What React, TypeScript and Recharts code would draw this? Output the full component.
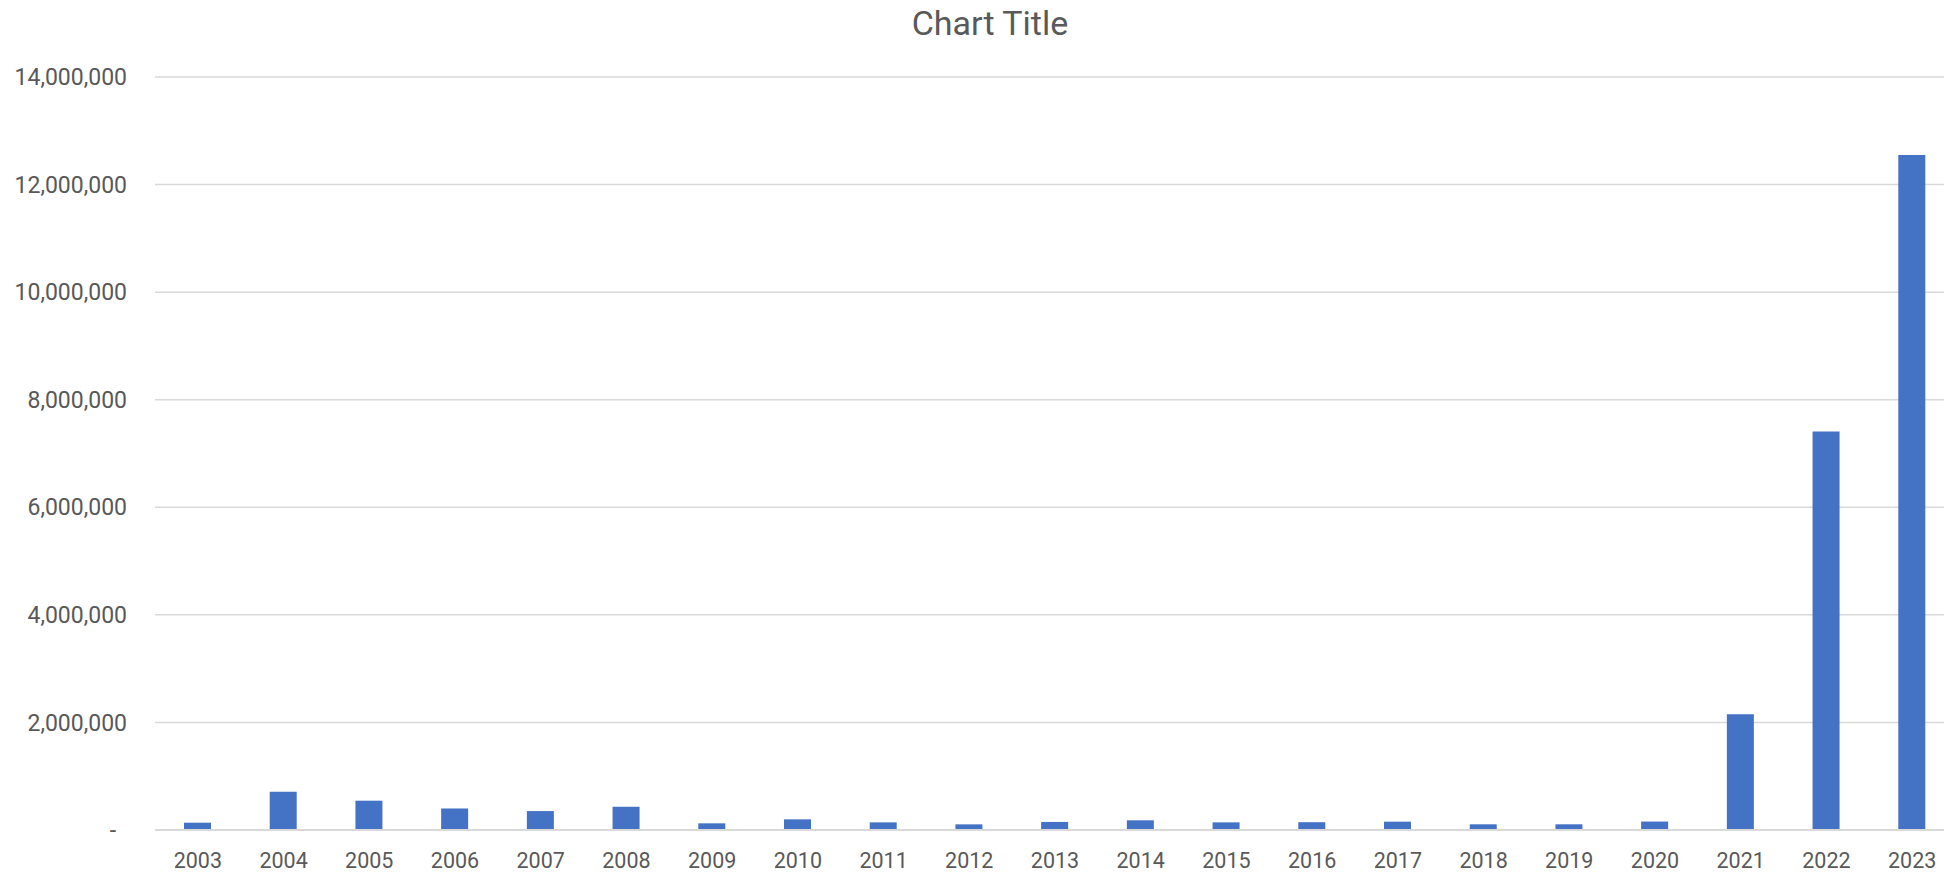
import { Bar, BarChart, CartesianGrid, XAxis, YAxis } from 'recharts'

const years = [
  '2003', '2004', '2005', '2006', '2007', '2008', '2009', '2010', '2011', '2012', '2013',
  '2014', '2015', '2016', '2017', '2018', '2019', '2020', '2021', '2022', '2023',
]

const values = [
  136000, 710000, 545000, 400000, 352000, 432000, 124000, 198000, 142000, 105000, 150000,
  180000, 142000, 145000, 155000, 106000, 106000, 157000, 2150000, 7410000, 12550000,
]

const yTicks = [0, 2000000, 4000000, 6000000, 8000000, 10000000, 12000000, 14000000]

const data = years.map((year, i) => ({ year, value: values[i] }))

const TEXT = '#595959'
const GRID = '#d9d9d9'
const FONT = 'Roboto, sans-serif'

function YTick({ x, y, payload }: any) {
  const v = Number(payload.value)
  const label = v === 0 ? '-' : v.toLocaleString('en-US')
  return (
    <text x={v === 0 ? x - 11 : x} y={y} dy="0.355em" textAnchor="end" fill={TEXT} fontSize={23} fontFamily={FONT}>
      {label}
    </text>
  )
}

export default function App() {
  return (
    <div style={{ position: 'absolute', left: 0, top: 0, width: 1944, height: 874, overflow: 'hidden', background: '#fff' }}>
      <div
        style={{
          position: 'absolute',
          left: 0,
          top: 6,
          width: 1980,
          textAlign: 'center',
          fontFamily: FONT,
          fontSize: 34,
          lineHeight: '34px',
          color: TEXT,
        }}
      >
        Chart Title
      </div>
      <BarChart width={1980} height={874} data={data} margin={{ top: 77, right: 25, left: 0, bottom: 4 }}>
        <CartesianGrid vertical={false} stroke={GRID} strokeWidth={1.5} />
        <XAxis
          dataKey="year"
          height={40}
          tickLine={false}
          tickSize={0}
          tickMargin={23}
          axisLine={{ stroke: GRID, strokeWidth: 2 }}
          tick={{ fill: TEXT, fontSize: 21.5, fontFamily: FONT }}
          interval={0}
        />
        <YAxis
          width={155}
          domain={[0, 14000000]}
          ticks={yTicks}
          axisLine={false}
          tickLine={false}
          tickSize={0}
          tickMargin={28}
          tick={<YTick />}
          interval={0}
        />
        <Bar dataKey="value" fill="#4472c4" barSize={27} isAnimationActive={false} />
      </BarChart>
    </div>
  )
}
